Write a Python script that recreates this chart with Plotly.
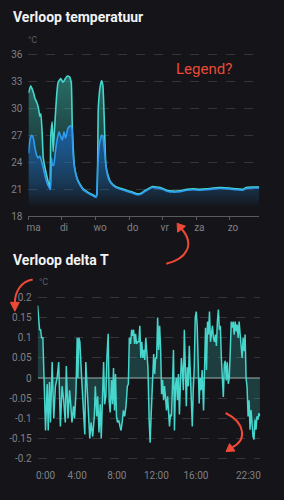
import plotly.graph_objects as go

# ---------------- data ----------------
day_labels = ["ma", "di", "wo", "do", "vr", "za", "zo"]

teal_days = [0.000, 0.068, 0.147, 0.195, 0.245, 0.295, 0.342, 0.372, 0.413, 0.442, 0.540, 0.637,
             0.667, 0.708, 0.737, 0.767, 0.835, 0.885, 0.962, 1.032, 1.100, 1.159, 1.227, 1.277,
             1.307, 1.375, 1.475, 1.622, 1.770, 1.917, 2.015, 2.044, 2.083, 2.142, 2.183, 2.221,
             2.260, 2.310, 2.378, 2.457, 2.605, 2.841, 3.097, 3.245, 3.342, 3.490, 3.687, 3.932,
             4.130, 4.324, 4.522, 4.720, 4.914, 5.112, 5.310, 5.504, 5.702, 5.997, 6.195, 6.389,
             6.490, 6.684, 6.882]
teal_vals = [31.7, 32.5, 31.8, 31.1, 30.7, 30.1, 29.1, 29.4, 27.0, 24.5, 22.6, 21.2,
             27.0, 28.5, 25.2, 27.0, 31.1, 32.9, 33.3, 32.9, 33.3, 33.6, 33.5, 32.9,
             28.1, 23.5, 22.0, 21.1, 20.7, 20.4, 20.2, 20.4, 30.0, 32.5, 33.1, 32.5,
             28.9, 23.6, 22.5, 21.8, 21.3, 21.0, 20.7, 20.5, 20.55, 20.9, 21.3, 21.2,
             20.9, 20.8, 20.85, 21.0, 21.05, 21.0, 21.05, 21.15, 21.2, 21.15, 21.05, 21.0,
             21.2, 21.25, 21.25]

blue_days = [0.000, 0.047, 0.097, 0.147, 0.195, 0.245, 0.295, 0.342, 0.392, 0.442, 0.510, 0.590,
             0.658, 0.687, 0.717, 0.755, 0.805, 0.864, 0.914, 0.962, 1.012, 1.062, 1.109, 1.180,
             1.257, 1.298, 1.327, 1.375, 1.475, 1.622, 1.770, 1.917, 2.015, 2.065, 2.112, 2.183,
             2.221, 2.260, 2.310, 2.378, 2.457, 2.605, 2.841, 3.097, 3.245, 3.342, 3.490, 3.687,
             3.932, 4.130, 4.324, 4.522, 4.720, 4.914, 5.112, 5.310, 5.504, 5.702, 5.997, 6.195,
             6.389, 6.490, 6.684, 6.882]
blue_vals = [25.0, 26.5, 27.0, 26.7, 25.6, 24.8, 24.5, 24.7, 24.1, 23.4, 22.3, 21.4,
             21.0, 24.5, 23.7, 23.7, 25.2, 26.7, 27.4, 26.9, 26.5, 27.4, 26.7, 27.8,
             28.1, 27.8, 25.2, 23.4, 21.9, 21.0, 20.6, 20.3, 20.1, 23.4, 25.9, 27.0,
             26.9, 25.6, 23.7, 22.3, 21.7, 21.2, 20.9, 20.6, 20.4, 20.45, 20.8, 21.2,
             21.1, 20.8, 20.7, 20.75, 20.9, 20.95, 20.9, 20.95, 21.05, 21.1, 21.05, 20.95,
             20.9, 21.1, 21.15, 21.15]

temp_ticks = [18, 21, 24, 27, 30, 33, 36]

delta_hours = [0.0, 0.2, 0.3, 0.4, 0.53, 0.63, 0.8, 0.97, 1.07, 1.2, 1.3, 1.47, 1.63, 1.8, 1.97,
               2.13, 2.3, 2.47, 2.63, 2.8, 2.9, 3.07, 3.23, 3.33, 3.47, 3.63, 3.73, 3.87, 4.0,
               4.07, 4.17, 4.27, 4.37, 4.47, 4.63, 4.77, 4.87, 5.0, 5.13, 5.27, 5.4, 5.57, 5.73,
               5.83, 5.97, 6.07, 6.2, 6.33, 6.43, 6.57, 6.67, 6.77, 6.9, 7.0, 7.13, 7.23, 7.33,
               7.47, 7.57, 7.67, 7.77, 7.87, 7.97, 8.07, 8.2, 8.33, 8.43, 8.57, 8.67, 8.8, 8.93,
               9.07, 9.17, 9.27, 9.4, 9.5, 9.6, 9.7, 9.8, 9.9, 10.0, 10.1, 10.23, 10.33, 10.43,
               10.53, 10.63, 10.73, 10.83, 10.93, 11.03, 11.15, 11.27, 11.37, 11.47, 11.6, 11.73,
               11.83, 11.93, 12.03, 12.13, 12.23, 12.33, 12.43, 12.53, 12.63, 12.73, 12.83, 12.93,
               13.03, 13.13, 13.23, 13.33, 13.43, 13.53, 13.63, 13.73, 13.83, 13.93, 14.03, 14.13,
               14.23, 14.33, 14.43, 14.53, 14.63, 14.73, 14.83, 14.93, 15.03, 15.13, 15.23, 15.33,
               15.43, 15.53, 15.63, 15.73, 15.83, 15.93, 16.03, 16.13, 16.23, 16.33, 16.43, 16.53,
               16.63, 16.77, 16.87, 16.97, 17.07, 17.17, 17.27, 17.37, 17.47, 17.57, 17.67, 17.77,
               17.87, 17.97, 18.07, 18.17, 18.27, 18.37, 18.47, 18.57, 18.67, 18.77, 18.87, 18.97,
               19.07, 19.17, 19.27, 19.37, 19.47, 19.57, 19.67, 19.77, 19.87, 19.97, 20.07, 20.17,
               20.27, 20.37, 20.47, 20.57, 20.67, 20.77, 20.87, 20.97, 21.07, 21.17, 21.27, 21.37,
               21.47, 21.57, 21.67, 21.77, 21.87, 21.97, 22.07, 22.17, 22.27, 22.37, 22.47]
delta_vals = [0.18, 0.12, 0.12, 0.10, 0.10, -0.005, -0.13, -0.015, -0.13, -0.01, -0.11, 0.04, -0.10,
              -0.02, 0.0, 0.04, -0.12, -0.02, -0.055, -0.11, 0.03, -0.10, -0.03, -0.06, -0.11,
              -0.07, -0.10, -0.04, 0.10, 0.0, 0.10, 0.09, 0.02, -0.01, -0.08, -0.14, 0.04, -0.02,
              -0.09, -0.15, -0.11, -0.145, -0.095, -0.02, -0.095, -0.045, -0.135, -0.065, -0.15,
              -0.02, 0.04, -0.065, -0.045, 0.05, 0.11, -0.055, -0.085, -0.005, -0.065, 0.025,
              -0.08, 0.01, -0.095, -0.11, -0.105, -0.12, -0.13, -0.105, -0.08, -0.095, -0.07,
              -0.02, -0.015, 0.10, 0.085, 0.12, 0.105, 0.12, 0.085, 0.11, 0.085, 0.09, 0.09, 0.13,
              0.05, 0.09, 0.05, 0.07, 0.045, 0.10, 0.075, 0.026, -0.103, -0.16, -0.095, -0.03,
              0.06, 0.01, 0.05, 0.05, 0.15, 0.07, 0.13, 0.075, -0.04, -0.005, -0.055, -0.02, -0.06,
              -0.08, -0.045, -0.095, -0.12, -0.09, -0.095, -0.02, 0.07, -0.13, -0.02, 0.0, -0.055,
              0.01, -0.09, -0.015, 0.05, 0.02, -0.03, 0.12, 0.01, -0.07, 0.027, -0.02, 0.08, 0.01,
              -0.03, -0.12, -0.03, 0.027, 0.15, 0.165, 0.13, 0.05, -0.063, 0.0, -0.03, 0.02, -0.08,
              0.02, 0.125, 0.02, 0.14, 0.108, 0.165, 0.09, 0.12, 0.13, 0.10, 0.09, 0.108, 0.08,
              0.14, 0.17, 0.12, 0.13, 0.05, 0.0, -0.047, 0.035, 0.043, -0.006, 0.039, -0.014, 0.0,
              0.067, 0.14, 0.125, 0.14, 0.108, 0.14, 0.116, 0.133, 0.10, 0.14, 0.108, 0.076, 0.05,
              0.10, 0.067, 0.108, 0.0, -0.022, -0.095, -0.055, -0.128, -0.079, -0.12, -0.145,
              -0.152, -0.103, -0.128, -0.095, -0.103, -0.087, -0.095]

delta_ticks = [0.2, 0.15, 0.1, 0.05, 0, -0.05, -0.1, -0.15, -0.2]
delta_tick_text = ["0.2", "0.15", "0.1", "0.05", "0", "-0.05", "-0.1", "-0.15", "-0.2"]
time_label_pos = [0.8, 4, 8, 12, 16, 21.3]
time_labels = ["0:00", "4:00", "8:00", "12:00", "16:00", "22:30"]

# ---------------- style ----------------
W, H = 284, 500
BG = "#141419"
TEAL = "#46d6cb"
BLUE = "#2f9cf0"
GRID = "#34343a"
TICK = "#808086"
RED = "#ec4a37"
FONT = "Roboto"


def px(x):
    return x / W


def py(y):
    return 1 - y / H


fig = go.Figure()

fig.add_trace(go.Scatter(
    x=teal_days, y=teal_vals, mode="lines", xaxis="x", yaxis="y",
    line=dict(color=TEAL, width=1.6, shape="spline", smoothing=0.4),
    fill="tozeroy",
    fillgradient=dict(type="vertical",
                      colorscale=[[0, "rgba(60,200,180,0)"], [0.35, "rgba(60,200,180,0.18)"],
                                  [1, "rgba(60,200,180,0.5)"]],
                      start=19.2, stop=33.6),
    hoverinfo="skip", showlegend=False))

fig.add_trace(go.Scatter(
    x=blue_days, y=blue_vals, mode="lines", xaxis="x", yaxis="y",
    line=dict(color=BLUE, width=1.6, shape="spline", smoothing=0.4),
    fill="tozeroy",
    fillgradient=dict(type="vertical",
                      colorscale=[[0, "rgba(25,100,190,0)"], [0.3, "rgba(25,100,190,0.3)"],
                                  [1, "rgba(25,100,190,0.75)"]],
                      start=19.2, stop=28.1),
    hoverinfo="skip", showlegend=False))

fig.add_trace(go.Scatter(
    x=delta_hours, y=delta_vals, mode="lines", xaxis="x2", yaxis="y2",
    line=dict(color=TEAL, width=1.5),
    fill="tozeroy", fillcolor="rgba(64,208,200,0.22)",
    hoverinfo="skip", showlegend=False))

axis_font = dict(family=FONT, size=10, color=TICK)

fig.update_layout(
    width=W, height=H,
    margin=dict(l=0, r=0, t=0, b=0),
    paper_bgcolor=BG, plot_bgcolor=BG,
    font=dict(family=FONT),
    xaxis=dict(domain=[px(26.7), px(260)], range=[0, 6.882], anchor="y",
               tickvals=list(range(len(day_labels))), ticktext=day_labels,
               ticks="outside", ticklen=3, tickcolor="#5a5a60", tickwidth=1,
               ticklabelposition="outside right", ticklabelshift=-3, ticklabelstandoff=2,
               showline=True, linecolor="#5a5a60", linewidth=1,
               showgrid=False, zeroline=False, tickfont=axis_font, fixedrange=True),
    yaxis=dict(domain=[py(219), py(219 - 9.11 * 19)], range=[18, 37], anchor="x",
               tickvals=temp_ticks, ticks="", showline=False,
               showgrid=True, gridcolor=GRID, griddash="dash", gridwidth=1,
               zeroline=False, tickfont=axis_font, ticklabelstandoff=5, fixedrange=True),
    xaxis2=dict(domain=[px(36), px(261)], range=[0, 22.5], anchor="y2",
                tickvals=time_label_pos, ticktext=time_labels, ticks="",
                ticklabelstandoff=5,
                showline=False, showgrid=False, zeroline=False, tickfont=axis_font,
                fixedrange=True),
    yaxis2=dict(domain=[py(382.7 + 408 * 0.21), py(382.7 - 408 * 0.225)],
                range=[-0.21, 0.225], anchor="x2",
                tickvals=delta_ticks, ticktext=delta_tick_text, ticks="",
                showgrid=True, gridcolor=GRID, griddash="dash", gridwidth=1,
                zeroline=True, zerolinecolor="#5e6062", zerolinewidth=2,
                showline=False, tickfont=axis_font, ticklabelstandoff=5, fixedrange=True),
)

annotations = [
    dict(text="<b>Verloop temperatuur</b>", x=px(9), y=py(17), xanchor="left", yanchor="middle",
         font=dict(family=FONT, size=14, color="#f2f2f4")),
    dict(text="<b>Verloop delta T</b>", x=px(9), y=py(263), xanchor="left", yanchor="middle",
         font=dict(family=FONT, size=14, color="#f2f2f4")),
    dict(text="°C", x=px(24), y=py(40), xanchor="left", yanchor="middle",
         font=dict(family=FONT, size=9, color="#5c5c62")),
    dict(text="°C", x=px(35), y=py(285), xanchor="left", yanchor="middle",
         font=dict(family=FONT, size=9, color="#5c5c62")),
    dict(text="Legend?", x=px(174), y=py(70), xanchor="left", yanchor="middle",
         font=dict(family=FONT, size=15, color=RED)),
]
for a in annotations:
    a.update(xref="paper", yref="paper", showarrow=False)
fig.update_layout(annotations=annotations)


def curve(p0, c1, c2, p1):
    return (f"M {px(p0[0])},{py(p0[1])} C {px(c1[0])},{py(c1[1])} "
            f"{px(c2[0])},{py(c2[1])} {px(p1[0])},{py(p1[1])}")


def tri(a, b, c):
    return (f"M {px(a[0])},{py(a[1])} L {px(b[0])},{py(b[1])} "
            f"L {px(c[0])},{py(c[1])} Z")


shapes = []
arrow_curves = [
    ((166, 267), (186, 262), (196, 248), (181, 231)),
    ((31, 283), (20, 285), (13, 294), (13, 307)),
    ((226, 418), (246, 428), (248, 446), (232, 453)),
]
arrow_heads = [
    ((177, 226), (185.5, 229), (177.5, 235)),
    ((13, 315), (8.5, 306), (17.5, 306)),
    ((226.5, 457), (235.5, 456.5), (230, 449)),
]
for c in arrow_curves:
    shapes.append(dict(type="path", path=curve(*c), xref="paper", yref="paper",
                       line=dict(color=RED, width=2)))
for t in arrow_heads:
    shapes.append(dict(type="path", path=tri(*t), xref="paper", yref="paper",
                       line=dict(color=RED, width=1), fillcolor=RED))
fig.update_layout(shapes=shapes)

fig.write_html("out.html")
